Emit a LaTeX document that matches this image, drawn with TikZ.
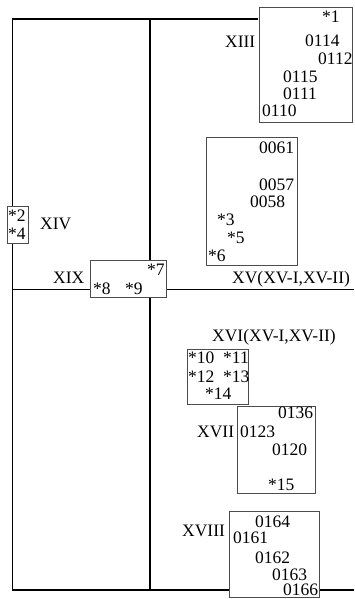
\documentclass[tikz,border=0pt]{standalone}
\usepackage{fontspec}
\setmainfont{Liberation Serif}
\pgfdeclarelayer{bg}
\pgfsetlayers{bg,main}
\begin{document}
\begin{tikzpicture}[x=1pt,y=-1pt,
  frame/.style={line width=1.3pt, black},
  box/.style={draw=black!70, line width=0.9pt, fill=white, inner sep=0pt},
  lbl/.style={anchor=base west, inner sep=0pt, font=\fontsize{17.5}{20}\selectfont}]
\useasboundingbox (0,0) rectangle (354,599);
% boxes
\draw[box] (259,7.5) rectangle (352.5,122) coordinate (b13se);
\node[inner sep=0pt] (b13w) at (259,19) {};
\draw[box] (206,137) rectangle (297,265);
\draw[box] (7,206) rectangle (28,243);
\draw[box] (90,260) rectangle (166,297);
\draw[box] (187,349) rectangle (248,404);
\draw[box] (237,406) rectangle (315,493);
\draw[box] (229.5,511.5) rectangle (319,597.5);
% frame lines
\coordinate (tl) at (12.5,19);
\coordinate (bl) at (12.5,590);
\coordinate (br) at (354,590);
\coordinate (tm) at (150,19);
\coordinate (bm) at (150,590);
\coordinate (ml) at (12.5,289.5);
\coordinate (mr) at (354,289.5);
\begin{pgfonlayer}{bg}
\draw[frame] (b13w) -- (tl) -- (bl) -- (br);
\draw[frame] (tm) -- (bm);
\draw[frame] (ml) -- (mr);
\end{pgfonlayer}
% texts
\node[lbl] (t13) at (225,48) {XIII};
\node[lbl] (a1) at (322,23) {*1};
\node[lbl] (a0114) at (305,47) {0114};
\node[lbl] (a0112) at (318,65) {0112};
\node[lbl] (a0115) at (283,83) {0115};
\node[lbl] (a0111) at (283,100) {0111};
\node[lbl] (a0110) at (262,117) {0110};
\node[lbl] (a0061) at (259,153) {0061};
\node[lbl] (a0057) at (259,190) {0057};
\node[lbl] (a0058) at (250,207) {0058};
\node[lbl] (a3) at (217,225) {*3};
\node[lbl] (a5) at (227,243) {*5};
\node[lbl] (a6) at (208,261) {*6};
\node[lbl] (t14) at (40,229) {XIV};
\node[lbl] (a2) at (8,221) {*2};
\node[lbl] (a4) at (8,239) {*4};
\node[lbl] (t19) at (53,283) {XIX};
\node[lbl] (a7) at (147,275) {*7};
\node[lbl] (a8) at (93,294) {*8};
\node[lbl] (a9) at (125,294) {*9};
\node[lbl] (t15) at (232,283) {XV(XV-I,XV-II)};
\node[lbl] (t16) at (212,341) {XVI(XV-I,XV-II)};
\node[lbl] (a10) at (188,363) {*10};
\node[lbl] (a11) at (223,363) {*11};
\node[lbl] (a12) at (188,382) {*12};
\node[lbl] (a13) at (223,382) {*13};
\node[lbl] (a14) at (205,399) {*14};
\node[lbl] (t17) at (197,437) {XVII};
\node[lbl] (a0136) at (278,418) {0136};
\node[lbl] (a0123) at (240,437) {0123};
\node[lbl] (a0120) at (272,455) {0120};
\node[lbl] (a15) at (268,490) {*15};
\node[lbl] (t18) at (182,536) {XVIII};
\node[lbl] (a0164) at (255,527) {0164};
\node[lbl] (a0161) at (233,543) {0161};
\node[lbl] (a0162) at (255,563) {0162};
\node[lbl] (a0163) at (272,580) {0163};
\node[lbl] (a0166) at (283,595) {0166};
\end{tikzpicture}
\end{document}
